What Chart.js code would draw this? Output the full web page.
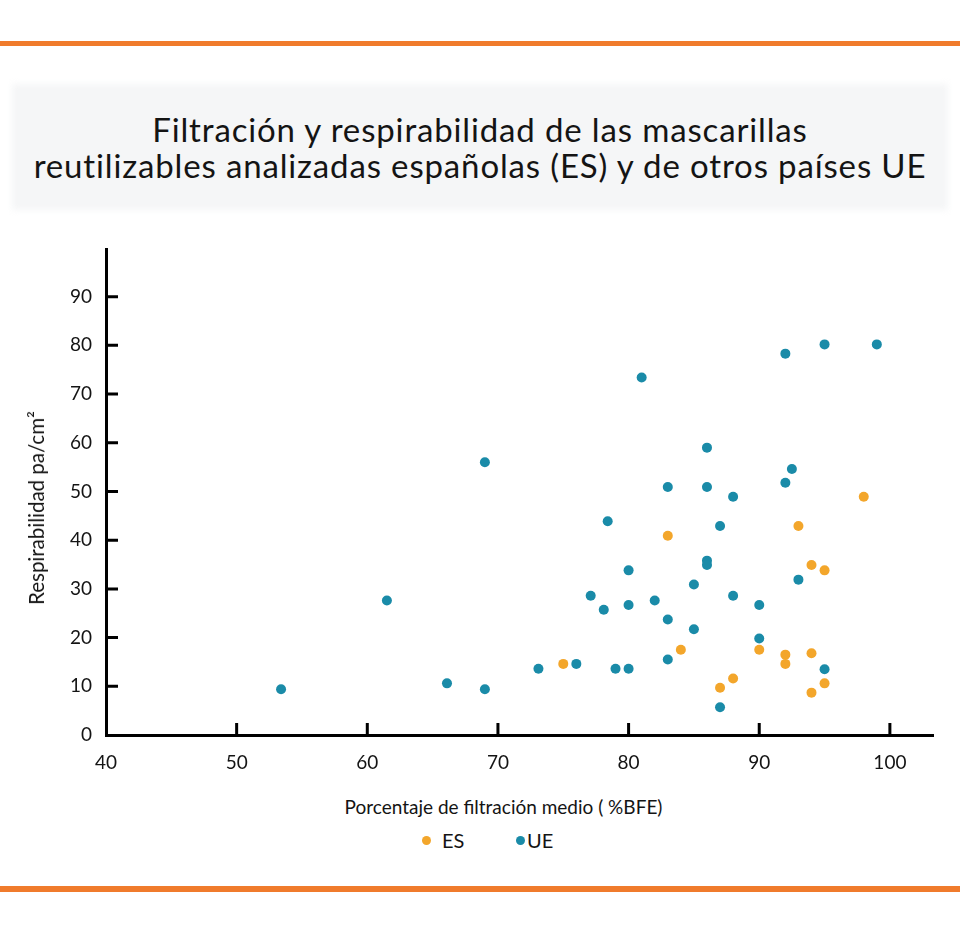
<!DOCTYPE html>
<html lang="es">
<head>
<meta charset="utf-8">
<title>Filtración y respirabilidad</title>
<script src="https://cdn.jsdelivr.net/npm/chart.js@4/dist/chart.umd.min.js"></script>
<style>
  html, body { margin: 0; padding: 0; background: #fff; }
  body { width: 960px; height: 933px; position: relative; overflow: hidden; font-family: Lato, sans-serif; color: #141414; }
  .raya { position: absolute; left: 0; width: 960px; background: #f07b2c; }
  .caja { position: absolute; left: 12px; top: 84px; width: 936px; height: 126px; background: #f5f6f7; filter: blur(3px); }
  .titulo { position: absolute; left: 0; top: 110.6px; width: 960px; text-align: center; font-size: 33px; line-height: 36.6px; letter-spacing: 0.85px; }
  #lienzo { position: absolute; left: 0; top: 224px; }
  .ytit { position: absolute; left: 36px; top: 508px; transform: translate(-50%, -50%) rotate(-90deg); font-size: 20.5px; white-space: nowrap; }
  .xtit { position: absolute; left: 0; top: 797px; width: 1007px; text-align: center; font-size: 19px; line-height: 19px; white-space: nowrap; }
  .ley { position: absolute; top: 830px; font-size: 20px; line-height: 20px; }
  .punto { position: absolute; width: 9px; height: 9px; border-radius: 50%; }
</style>
</head>
<body>
<div class="raya" style="top:41px;height:5px"></div>
<div class="caja"></div>
<div class="titulo">Filtración y respirabilidad de las mascarillas<br>reutilizables analizadas españolas (ES) y de otros países UE</div>
<canvas id="lienzo" width="960" height="566"></canvas>
<div class="ytit">Respirabilidad pa/cm²</div>
<div class="xtit">Porcentaje de filtración medio ( %BFE)</div>
<div class="punto" style="left:422px;top:836px;background:#f3a62b"></div>
<div class="ley" style="left:442px">ES</div>
<div class="punto" style="left:516px;top:836px;background:#1a8ba8"></div>
<div class="ley" style="left:527px">UE</div>
<div class="raya" style="top:886px;height:6px"></div>

<script>
// mascarillas españolas (ES)
const esX = [75, 83, 84, 87, 88, 90, 92, 92, 93, 94, 94, 94, 95, 95, 98];
const esY = [14.6, 40.9, 17.5, 9.7, 11.6, 17.5, 16.5, 14.6, 42.9, 34.9, 16.8, 8.7, 33.8, 10.6, 48.9];

// mascarillas de otros países UE
const ueX = [53.4, 61.5, 66.1, 69, 69, 73.1, 76, 77.1, 78.1, 78.4, 79, 80, 80, 80, 81, 82, 83, 83, 83,
             85, 85, 86, 86, 86, 86, 87, 87, 88, 88, 90, 90, 92, 92, 92.5, 93, 95, 95, 99];
const ueY = [9.4, 27.6, 10.6, 9.4, 56, 13.6, 14.6, 28.6, 25.7, 43.9, 13.6, 13.6, 26.7, 33.8, 73.4, 27.6, 50.9, 23.7, 15.5,
             30.9, 21.7, 59, 50.9, 35.8, 34.9, 42.9, 5.7, 48.9, 28.6, 26.7, 19.8, 78.3, 51.8, 54.6, 31.9, 13.5, 80.2, 80.2];

const colorES = '#f3a62b';
const colorUE = '#1a8ba8';

const puntos = (xs, ys) => xs.map((x, i) => ({ x: x, y: ys[i] }));

// marcas de los ejes hacia dentro del gráfico
const marcasDentro = {
  id: 'marcasDentro',
  beforeDatasetsDraw(chart) {
    const { ctx, chartArea, scales } = chart;
    ctx.save();
    ctx.strokeStyle = '#000';
    ctx.lineWidth = 3;
    ctx.beginPath();
    scales.x.ticks.forEach(t => {
      if (t.value === scales.x.min) return;
      const px = scales.x.getPixelForValue(t.value);
      ctx.moveTo(px, chartArea.bottom);
      ctx.lineTo(px, chartArea.bottom - 12);
    });
    scales.y.ticks.forEach(t => {
      if (t.value === scales.y.min) return;
      const py = scales.y.getPixelForValue(t.value);
      ctx.moveTo(chartArea.left, py);
      ctx.lineTo(chartArea.left + 12, py);
    });
    ctx.stroke();
    ctx.restore();
  }
};

const fuenteTicks = { family: 'Lato', size: 19 };

new Chart(document.getElementById('lienzo').getContext('2d'), {
  type: 'scatter',
  data: {
    datasets: [
      { label: 'UE', data: puntos(ueX, ueY), backgroundColor: colorUE, borderWidth: 0, pointRadius: 5 },
      { label: 'ES', data: puntos(esX, esY), backgroundColor: colorES, borderWidth: 0, pointRadius: 5 }
    ]
  },
  options: {
    responsive: false,
    animation: false,
    layout: { padding: { top: 17, right: 27, bottom: 0, left: 0 } },
    plugins: { legend: { display: false }, tooltip: { enabled: false } },
    scales: {
      x: {
        type: 'linear',
        min: 40,
        max: 103.3,
        grid: { display: false, drawTicks: false },
        border: { display: true, color: '#000', width: 3 },
        ticks: { stepSize: 10, includeBounds: false, padding: 16, color: '#141414', font: fuenteTicks },
        afterFit: s => { s.height = 55; }
      },
      y: {
        type: 'linear',
        min: 0,
        max: 99.7,
        grid: { display: false, drawTicks: false },
        border: { display: true, color: '#000', width: 3 },
        ticks: { stepSize: 10, includeBounds: false, padding: 14, color: '#141414', font: fuenteTicks },
        afterFit: s => { s.width = 106; }
      }
    }
  },
  plugins: [marcasDentro]
});
</script>
</body>
</html>
